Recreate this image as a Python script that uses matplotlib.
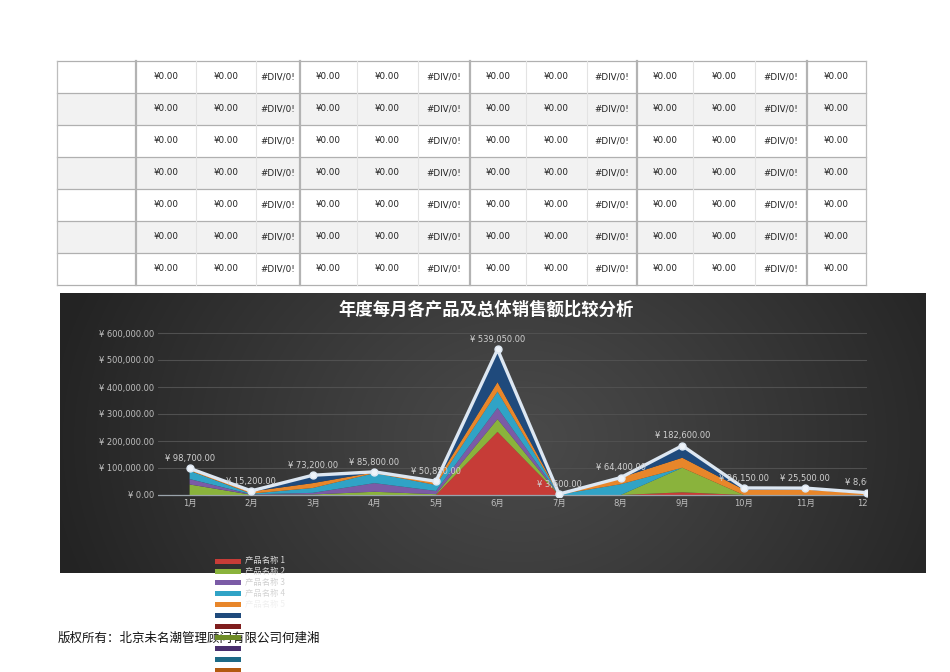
import matplotlib
matplotlib.use("Agg")
import matplotlib.pyplot as plt
import numpy as np
from matplotlib.transforms import Bbox, TransformedBbox

plt.rcParams['font.family'] = ['DejaVu Sans', 'Noto Sans CJK SC']

# ---- data ----
months = ["1月", "2月", "3月", "4月", "5月", "6月", "7月", "8月", "9月", "10月", "11月", "12月"]
product_names = ["产品名称 %d" % i for i in range(1, 13)]
product_colors = ["#c63c37", "#8ab33c", "#7b5ba6", "#30a3c6", "#e8862a", "#1f4a7c",
                  "#7f1d1d", "#6e8c26", "#4a2f6e", "#1d6a86", "#b35a10", "#16365c"]

p1 = [0, 0, 0, 0, 0, 234000, 0, 0, 10000, 0, 0, 0]
p2 = [39000, 1000, 2000, 12000, 3000, 47000, 0, 0, 91000, 0, 0, 0]
p3 = [20000, 1500, 6000, 32000, 12000, 42000, 0, 0, 0, 0, 0, 0]
p4 = [31000, 2500, 18000, 37000, 22000, 60000, 2000, 40000, 0, 0, 0, 0]
p5 = [5000, 8000, 18000, 3000, 12000, 35000, 1600, 24400, 37000, 20000, 20000, 5600]
p6 = [3700, 2200, 29200, 1800, 1850, 121050, 0, 0, 44600, 6150, 5500, 3000]
p7 = [0] * 12
p8 = [0] * 12
p9 = [0] * 12
p10 = [0] * 12
p11 = [0] * 12
p12 = [0] * 12
products = [p1, p2, p3, p4, p5, p6, p7, p8, p9, p10, p11, p12]
totals = np.sum(np.array(products), axis=0)

# table contents (all cells show the same placeholder values)
table_row = ["", "¥0.00", "¥0.00", "#DIV/0!", "¥0.00", "¥0.00", "#DIV/0!",
             "¥0.00", "¥0.00", "#DIV/0!", "¥0.00", "¥0.00", "#DIV/0!", "¥0.00"]
n_table_rows = 7

title = "年度每月各产品及总体销售额比较分析"
copyright_text = "版权所有：北京未名潮管理顾问有限公司何建湘"

# ---- figure ----
W, H = 950, 672
fig = plt.figure(figsize=(W / 100, H / 100), dpi=100)
bg = fig.add_axes([0, 0, 1, 1], zorder=0)
bg.set_xlim(0, W)
bg.set_ylim(H, 0)
bg.axis("off")

# table
col_edges = [57, 136, 196, 256, 300, 357, 418, 470, 526, 587, 637, 693, 755, 807, 866]
thick_cols = [136, 300, 470, 637, 807]
row_edges = [60.5 + 32 * i for i in range(n_table_rows + 1)]
for r in range(n_table_rows):
    if r % 2 == 1:
        bg.fill_between([col_edges[0], col_edges[-1]], row_edges[r], row_edges[r + 1],
                        color="#f2f2f2", lw=0)
    yc = (row_edges[r] + row_edges[r + 1]) / 2
    for c, val in enumerate(table_row):
        xc = (col_edges[c] + col_edges[c + 1]) / 2
        bg.text(xc, yc, val, fontsize=6.3, ha="center", va="center", color="#222222")
for y in row_edges:
    bg.plot([col_edges[0], col_edges[-1]], [y, y], color="#b0b0b0", lw=0.9)
for x in col_edges:
    if x in thick_cols:
        bg.plot([x, x], [row_edges[0], row_edges[-1]], color="#b3b3b3", lw=1.6)
    elif x in (col_edges[0], col_edges[-1]):
        bg.plot([x, x], [row_edges[0], row_edges[-1]], color="#bdbdbd", lw=0.9)
    else:
        bg.plot([x, x], [row_edges[0], row_edges[-1]], color="#e3e3e3", lw=0.8)

# chart background with radial gradient
cx0, cx1, cy0, cy1 = 60, 926, 293, 573
xx, yy = np.meshgrid(np.arange(cx0, cx1), np.arange(cy0, cy1))
r = np.sqrt(((xx - 520) / 1.0) ** 2 + ((yy - 440) / 0.8) ** 2) / 480
r = np.clip(r, 0, 1)
shade = (0x4a - (0x4a - 0x23) * r ** 1.1) / 255.0
img = np.dstack([shade, shade, shade])
bg.imshow(img, extent=(cx0, cx1, cy1, cy0), aspect="auto", interpolation="bilinear", zorder=1)
bg.set_xlim(0, W)
bg.set_ylim(H, 0)

bg.text(486, 310, title, fontsize=12.5, fontweight="bold", color="white",
        ha="center", va="center", family=["Noto Sans CJK SC"], zorder=3)

# copyright
bg.text(58, 638, copyright_text, fontsize=9, color="#111111", ha="left", va="center",
        family=["Noto Sans CJK SC"], zorder=3)

# legend (overflows the chart bottom; only the first entries' text is visible)
legend_text_colors = ["#d9d9d9", "#d9d9d9", "#d0d0d0", "#d4d4d4", "#f0f0f0"]
for i, (name, color) in enumerate(zip(product_names, product_colors)):
    y = 561 + i * 10.9
    bg.fill_between([215, 241], y - 2.5, y + 2.5, color=color, lw=0, zorder=4)
    if i < len(legend_text_colors):
        bg.text(245, y, name, fontsize=6, color=legend_text_colors[i], ha="left",
                va="center", family=["Noto Sans CJK SC"], zorder=4)

# ---- plot axes ----
left_px, right_px = 158, 867
x0_px, dx_px = 190, 62.3
y0_px, y600_px = 495, 333
ymin, ymax = -8000, 620000
ppu = (y0_px - y600_px) / 600000
bot_px = y0_px - ymin * ppu
top_px = y600_px - (ymax - 600000) * ppu
ax = fig.add_axes([left_px / W, (H - bot_px) / H, (right_px - left_px) / W, (bot_px - top_px) / H],
                  zorder=2)
ax.patch.set_alpha(0)
x = np.arange(len(months))
ax.set_xlim((left_px - x0_px) / dx_px, (right_px - x0_px) / dx_px)
ax.set_ylim(ymin, ymax)

ax.stackplot(x, *products, colors=product_colors, labels=product_names, lw=0, zorder=2)
ax.plot(x, totals, color="#dde7f2", lw=2.4, marker="o", ms=5, mfc="#eef3f9", mec="#dde7f2",
        zorder=4)

clip = TransformedBbox(Bbox([[0, 0], [right_px / W, 1]]), fig.transFigure)
for xi, t in zip(x, totals):
    a = ax.annotate("¥ {:,.2f}".format(t), (xi, t), xytext=(0, 7), textcoords="offset points",
                    ha="center", va="center", fontsize=6, color="#d0d0d0", zorder=5)
    a.set_clip_box(clip)
    a.set_clip_on(True)

yt = list(range(0, 600001, 100000))
ax.set_yticks(yt)
ax.set_yticklabels(["¥ {:,.2f}".format(v) for v in yt])
ax.set_xticks(x)
ax.set_xticklabels(months)
ax.tick_params(axis="both", length=0, colors="#bfbfbf", labelsize=6)
ax.tick_params(axis="y", pad=2.5)
ax.tick_params(axis="x", pad=1.5)
for lbl in ax.get_xticklabels():
    lbl.set_clip_box(clip)
    lbl.set_clip_on(True)
for s in ax.spines.values():
    s.set_visible(False)
ax.grid(axis="y", color="#505050", lw=0.8, zorder=0)
ax.axhline(0, color="#9aa3ab", lw=0.9, zorder=3)

fig.savefig("out.png", dpi=100)
plt.close(fig)
